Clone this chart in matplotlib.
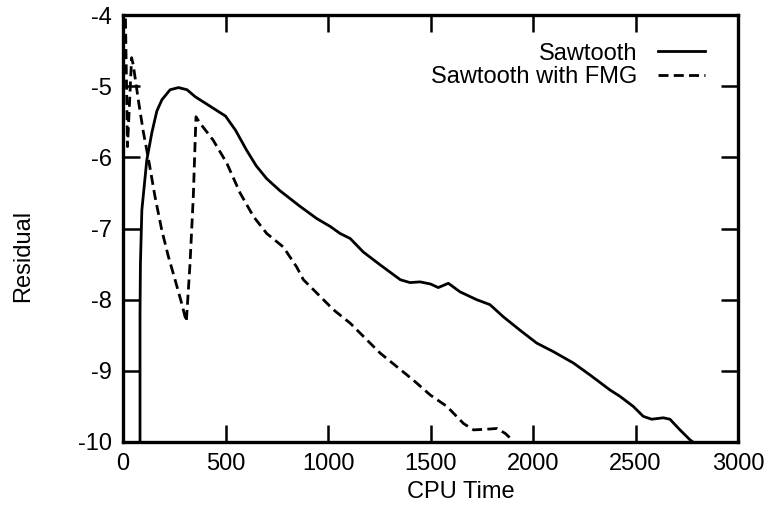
import matplotlib
matplotlib.use('Agg')
import matplotlib.pyplot as plt

plt.rcParams['font.family'] = ['Liberation Sans', 'DejaVu Sans']
plt.rcParams['axes.unicode_minus'] = False

# Sawtooth (solid)
saw_x = [83, 83, 85, 92, 116, 141, 165, 190, 230, 271, 312, 353, 402, 451, 500,
         549, 603, 650, 701, 766, 864, 945, 1010, 1059, 1108, 1172, 1254, 1353,
         1400, 1449, 1500, 1538, 1587, 1644, 1725, 1790, 1855, 1937, 2018, 2099,
         2197, 2279, 2376, 2425, 2489, 2538, 2579, 2636, 2668, 2717, 2766, 2780]
saw_y = [-10.0, -8.2, -7.5, -6.74, -6.04, -5.65, -5.35, -5.19, -5.05, -5.02, -5.05,
         -5.15, -5.24, -5.33, -5.42, -5.62, -5.90, -6.12, -6.30, -6.47, -6.69, -6.86,
         -6.97, -7.07, -7.14, -7.33, -7.51, -7.72, -7.76, -7.75, -7.78, -7.83, -7.77,
         -7.89, -8.00, -8.07, -8.24, -8.43, -8.61, -8.73, -8.89, -9.06, -9.27, -9.36,
         -9.50, -9.64, -9.68, -9.66, -9.68, -9.83, -9.97, -10.0]

# Sawtooth with FMG (dashed)
fmg_x = [12, 22, 42, 50, 75, 99, 124, 156, 189, 221, 254, 286, 309, 327, 343, 351,
         356, 376, 440, 506, 571, 636, 701, 782, 847, 880, 929, 1026, 1108, 1254,
         1335, 1416, 1499, 1580, 1661, 1710, 1775, 1824, 1865, 1898]
fmg_y = [-4.05, -5.85, -4.6, -4.7, -5.2, -5.64, -6.02, -6.55, -7.02, -7.39, -7.72,
         -8.05, -8.31, -7.49, -6.55, -5.85, -5.43, -5.52, -5.76, -6.08, -6.5, -6.83,
         -7.07, -7.26, -7.54, -7.72, -7.86, -8.14, -8.33, -8.75, -8.94, -9.13, -9.34,
         -9.50, -9.74, -9.83, -9.82, -9.81, -9.88, -9.97]

x_ticks = [0, 500, 1000, 1500, 2000, 2500, 3000]
y_ticks = [-10, -9, -8, -7, -6, -5, -4]

fig = plt.figure(figsize=(7.75, 5.11), dpi=100)
ax = fig.add_axes([123 / 775, 69 / 511, 615 / 775, 427 / 511])

ax.plot(saw_x, saw_y, color='black', lw=2.0, label='Sawtooth')
ax.plot(fmg_x, fmg_y, color='black', lw=2.0, dashes=(3.6, 1.9), label='Sawtooth with FMG')

ax.set_xlim(0, 3000)
ax.set_ylim(-10, -4)
ax.set_xticks(x_ticks)
ax.set_yticks(y_ticks)
ax.set_xticklabels([str(v) for v in x_ticks])
ax.set_yticklabels([str(v) for v in y_ticks])

for s in ax.spines.values():
    s.set_linewidth(2.4)
ax.tick_params(direction='in', length=12, width=1.8, top=True, right=True,
               labelsize=17, pad=8)

ax.set_xlabel('CPU Time', fontsize=17)
ax.set_ylabel('Residual', fontsize=17)
ax.xaxis.set_label_coords(0.55, -0.117)
ax.yaxis.set_label_coords(-0.163, 0.436)
ax.xaxis.label.set_va('center')
ax.yaxis.label.set_va('center')

ax.legend(loc='upper right', bbox_to_anchor=(0.946, 0.935), frameon=False,
          markerfirst=False, fontsize=17, handlelength=2.0, handletextpad=0.85,
          labelspacing=0.05, borderpad=0, borderaxespad=0)

fig.savefig('out.png', dpi=100)
